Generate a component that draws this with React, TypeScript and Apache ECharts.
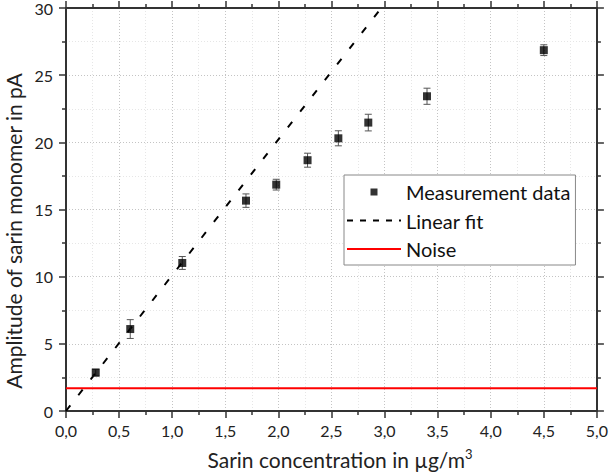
import React, { useEffect, useRef } from "react";
import * as echarts from "echarts";

const concentration = [0.28, 0.605, 1.095, 1.695, 1.98, 2.275, 2.565, 2.847, 3.4, 4.5];
const amplitude = [2.86, 6.1, 11.02, 15.66, 16.85, 18.67, 20.3, 21.47, 23.43, 26.86];
const amplitudeError = [0.25, 0.7, 0.48, 0.5, 0.4, 0.52, 0.56, 0.62, 0.6, 0.4];
const fitX = [0, 2.97];
const fitY = [0, 30];
const noiseLevel = 1.7;
const xRange = [0, 5];
const yRange = [0, 30];

const FONT = "Lato";

export default function App() {
  const ref = useRef<HTMLDivElement>(null);
  useEffect(() => {
    if (!ref.current) return;
    const chart = echarts.init(ref.current, undefined, { renderer: "svg" });
    const axisCommon = {
      axisLine: { show: true, onZero: false, lineStyle: { color: "#333", width: 2 } },
      axisTick: { show: true, inside: false, length: 7, lineStyle: { color: "#333", width: 1.5 } },
      minorTick: { show: true, splitNumber: 2, length: 4, lineStyle: { color: "#333", width: 1.5 } },
    };
    const points = concentration.map((x, i) => [x, amplitude[i]]);
    const errData = concentration.map((x, i) => [x, amplitude[i], amplitudeError[i]]);
    chart.setOption({
      animation: false,
      backgroundColor: "#fff",
      grid: { left: 66, right: 13, top: 8, bottom: 63, containLabel: false },
      xAxis: [
        {
          type: "value",
          min: xRange[0],
          max: xRange[1],
          interval: 0.5,
          ...axisCommon,
          axisLabel: {
            margin: 11,
            fontFamily: FONT,
            fontSize: 16,
            color: "#222",
            formatter: (v: number) => v.toFixed(1).replace(".", ","),
          },
          splitLine: { show: true, lineStyle: { color: "#c4c4c4", type: [1, 2], width: 1 } },
          minorSplitLine: { show: true, lineStyle: { color: "#e6e6e6", type: [1, 2], width: 1 } },
        },
        {
          type: "value",
          position: "top",
          min: xRange[0],
          max: xRange[1],
          interval: 0.5,
          ...axisCommon,
          axisLabel: { show: false },
          splitLine: { show: false },
        },
      ],
      yAxis: [
        {
          type: "value",
          min: yRange[0],
          max: yRange[1],
          interval: 5,
          ...axisCommon,
          axisLabel: { margin: 13, fontFamily: FONT, fontSize: 16, color: "#222" },
          splitLine: { show: true, lineStyle: { color: "#c4c4c4", type: [1, 2], width: 1 } },
          minorSplitLine: { show: true, lineStyle: { color: "#e6e6e6", type: [1, 2], width: 1 } },
        },
        {
          type: "value",
          position: "right",
          min: yRange[0],
          max: yRange[1],
          interval: 5,
          ...axisCommon,
          axisLabel: { show: false },
          splitLine: { show: false },
        },
      ],
      legend: {
        orient: "vertical",
        left: 344,
        top: 175,
        padding: [7, 5, 6, 2],
        itemWidth: 54,
        itemHeight: 14,
        itemGap: 8.5,
        backgroundColor: "#fff",
        borderColor: "#888",
        borderWidth: 1,
        textStyle: { fontFamily: FONT, fontSize: 20, color: "#111" },
        data: [
          { name: "Measurement data", icon: "path://M0,0M54,14M23.5,3.5h7v7h-7z" },
          { name: "Linear fit", itemStyle: { color: "rgba(0,0,0,0)", opacity: 0 }, lineStyle: { type: [6, 7] } },
          { name: "Noise", itemStyle: { color: "rgba(0,0,0,0)", opacity: 0 } },
        ],
      },
      graphic: [
        {
          type: "text",
          x: 340,
          y: 459,
          style: {
            text: "{a|Sarin concentration in µg/m}{b|3}",
            textAlign: "center",
            textVerticalAlign: "middle",
            rich: {
              a: { fontFamily: FONT, fontSize: 21, fill: "#222" },
              b: { fontFamily: FONT, fontSize: 13, fill: "#222", verticalAlign: "top", padding: [0, 0, 10, 0] },
            },
          },
        },
        {
          type: "text",
          x: 13,
          y: 231,
          rotation: Math.PI / 2,
          style: {
            text: "Amplitude of sarin monomer in pA",
            fontFamily: FONT,
            fontSize: 21,
            fill: "#222",
            textAlign: "center",
            textVerticalAlign: "middle",
          },
        },
      ],
      series: [
        {
          name: "Noise",
          type: "line",
          data: [[xRange[0], noiseLevel], [xRange[1], noiseLevel]],
          symbol: "none",
          lineStyle: { color: "#ff0000", width: 2 },
          itemStyle: { color: "#ff0000" },
          z: 2,
        },
        {
          name: "Linear fit",
          type: "line",
          data: fitX.map((x, i) => [x, fitY[i]]),
          symbol: "none",
          lineStyle: { color: "#000", width: 2, type: [7, 13] },
          itemStyle: { color: "#000" },
          z: 3,
        },
        {
          name: "Error",
          type: "custom",
          data: errData,
          z: 4,
          renderItem: (params: any, api: any) => {
            const x = api.value(0);
            const y = api.value(1);
            const e = api.value(2);
            const top = api.coord([x, y + e]);
            const bot = api.coord([x, y - e]);
            const st = { stroke: "#555", lineWidth: 1 };
            return {
              type: "group",
              children: [
                { type: "line", shape: { x1: top[0], y1: top[1], x2: bot[0], y2: bot[1] }, style: st },
                { type: "line", shape: { x1: top[0] - 3.5, y1: top[1], x2: top[0] + 3.5, y2: top[1] }, style: st },
                { type: "line", shape: { x1: bot[0] - 3.5, y1: bot[1], x2: bot[0] + 3.5, y2: bot[1] }, style: st },
              ],
            };
          },
        },
        {
          name: "Measurement data",
          type: "scatter",
          data: points,
          symbol: "rect",
          symbolSize: 8,
          itemStyle: { color: "#000" },
          z: 5,
        },
      ],
    });
    return () => chart.dispose();
  }, []);
  return (
    <div
      ref={ref}
      style={{ position: "fixed", left: 0, top: 0, width: 611, height: 474 }}
    />
  );
}
